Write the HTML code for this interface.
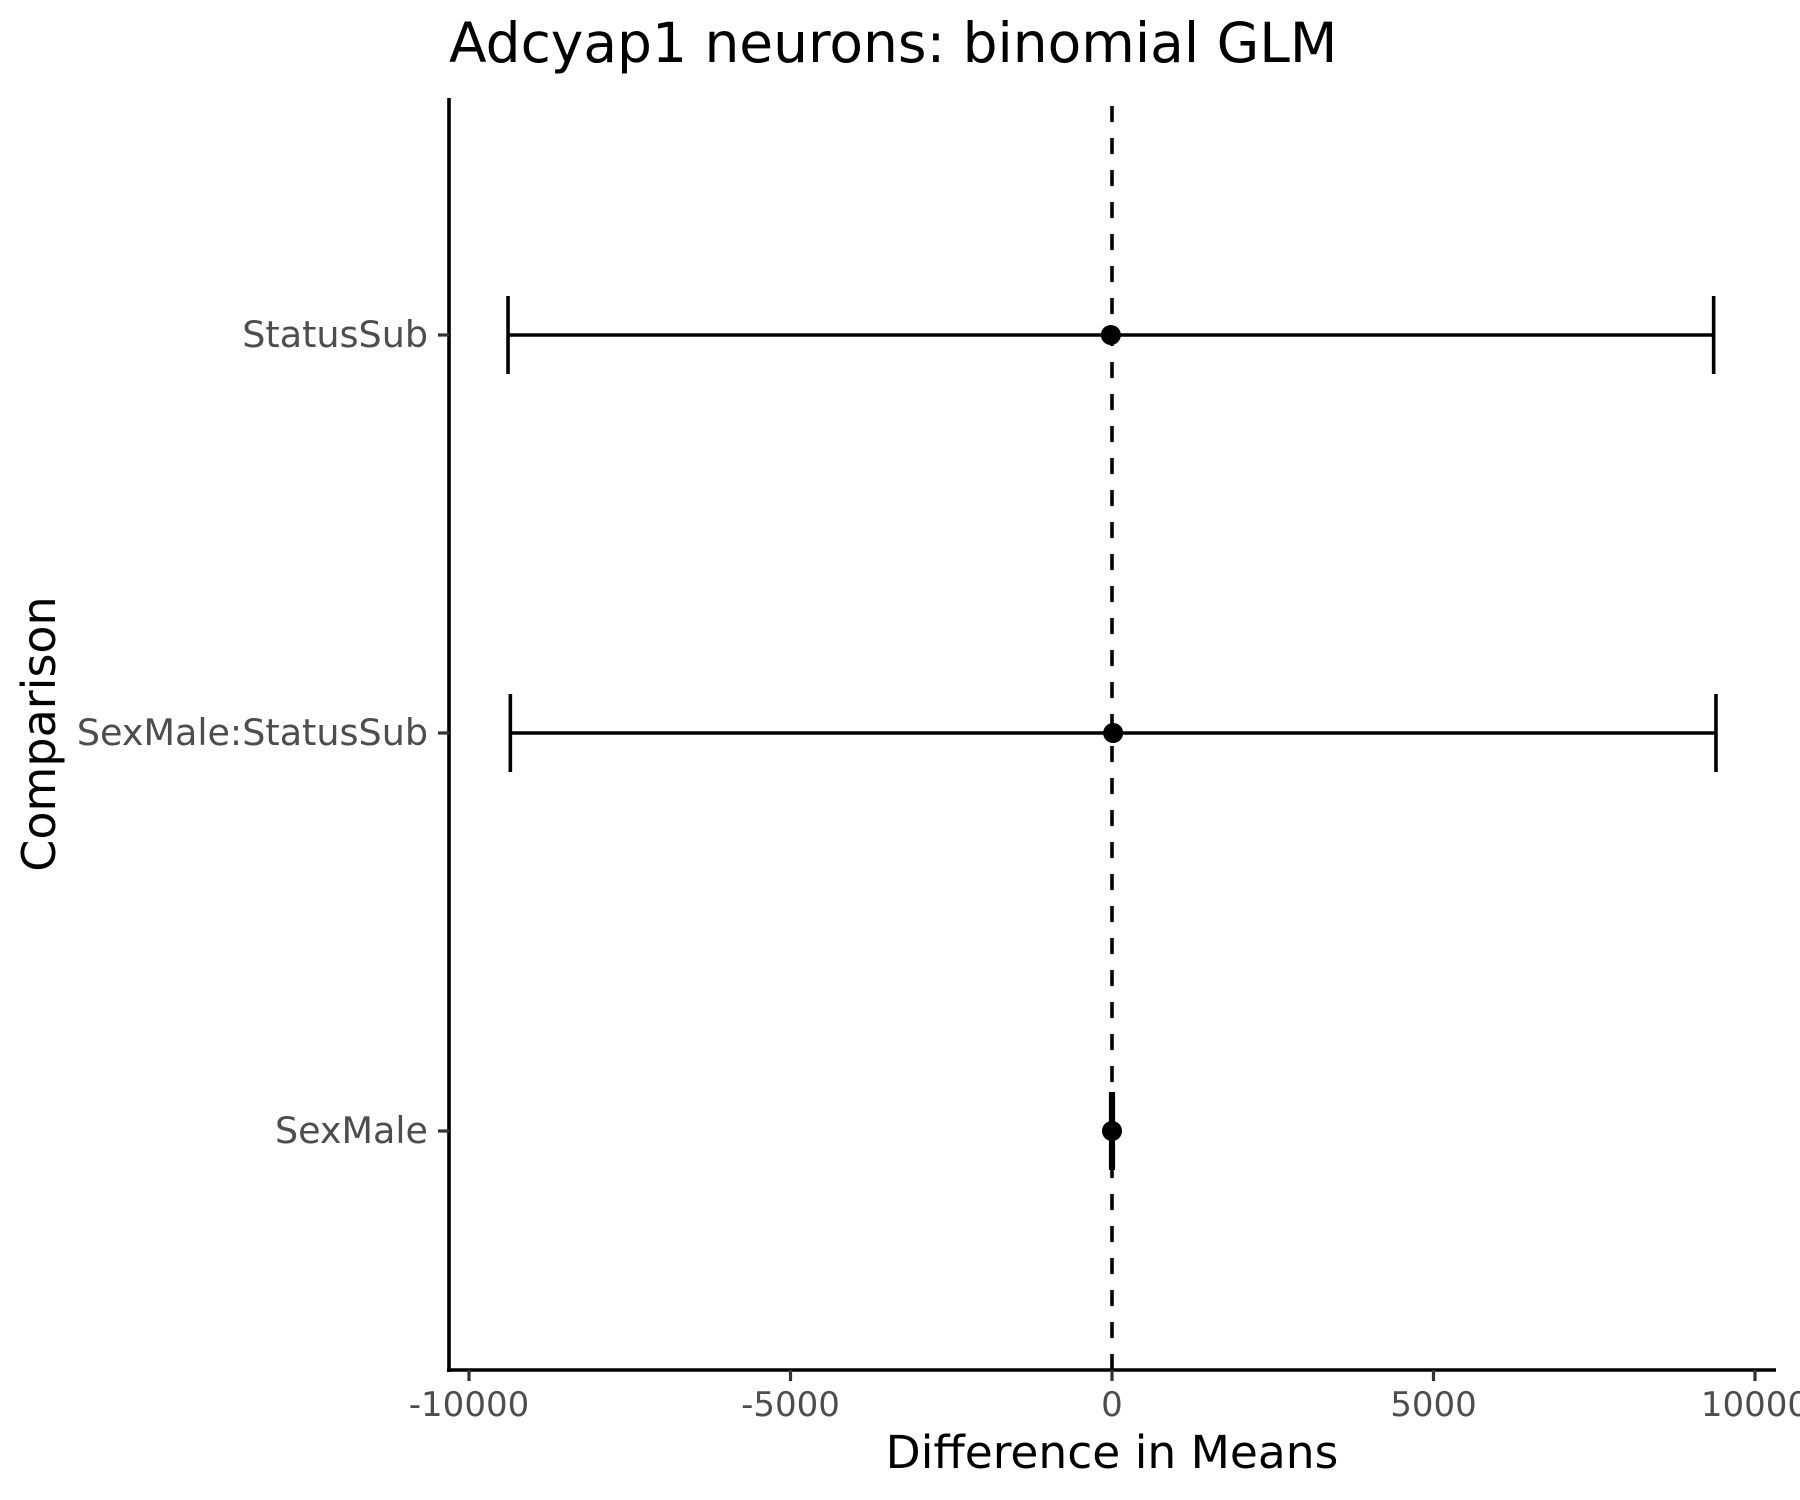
<!DOCTYPE html>
<html><head><meta charset="utf-8"><style>
html,body{margin:0;padding:0;background:#fff;}
svg{display:block;font-family:"DejaVu Sans","Liberation Sans",sans-serif;}
</style></head><body>
<svg id="chart" width="1800" height="1500" viewBox="0 0 1800 1500" xmlns="http://www.w3.org/2000/svg">
<text x="449" y="62" font-size="55" fill="#000">Adcyap1 neurons: binomial GLM</text>
<g id="plot"></g>
<text x="1112" y="1468" font-size="45.5" text-anchor="middle" fill="#000">Difference in Means</text>
<text transform="translate(55,734) rotate(-90)" font-size="46" text-anchor="middle" fill="#000">Comparison</text>
</svg>
<script>
const categories = ["StatusSub", "SexMale:StatusSub", "SexMale"];
const estimates = [-18, 18, 0];
const lowers = [-9393, -9357, -20];
const uppers = [9357, 9393, 20];
const xTicks = [-10000, -5000, 0, 5000, 10000];
const xTickLabels = ["-10000", "-5000", "0", "5000", "10000"];

const NS = "http://www.w3.org/2000/svg";
const g = document.getElementById("plot");
const xS = v => 1112 + v * (643 / 10000);
const yPos = [335, 733, 1131];
const yS = i => yPos[i];
function mk(tag, attrs) {
  const e = document.createElementNS(NS, tag);
  for (const k in attrs) e.setAttribute(k, attrs[k]);
  g.appendChild(e);
  return e;
}
let ref = mk("line", {x1: xS(0), x2: xS(0), y1: 106, y2: 1370, stroke: "#000", "stroke-width": 3.6, "stroke-dasharray": "16 16"});


let ya = mk("line", {x1: 449, x2: 449, y1: 98, y2: 1372, stroke: "#000", "stroke-width": 3.6});


let xa = mk("line", {x1: 447, x2: 1776, y1: 1370, y2: 1370, stroke: "#000", "stroke-width": 3.6});


xTicks.forEach((t, i) => {
  const x = xS(t);
  let tk = mk("line", {x1: x, x2: x, y1: 1370, y2: 1381, stroke: "#333", "stroke-width": 3.2});
  
  
  let tl = mk("text", {x: x, y: 1416, "font-size": 34, fill: "#4d4d4d", "text-anchor": "middle"});
  tl.textContent = xTickLabels[i];
  
  
});
categories.forEach((c, i) => {
  const y = yS(i);
  let tk = mk("line", {x1: 438, x2: 449, y1: y, y2: y, stroke: "#333", "stroke-width": 3.2});
  
  
  let tl = mk("text", {x: 428, y: y + 12, "font-size": 36.5, fill: "#4d4d4d", "text-anchor": "end"});
  tl.textContent = c;
  
  
  const x1 = xS(lowers[i]), x2 = xS(uppers[i]);
  let bar = mk("line", {x1: x1, x2: x2, y1: y, y2: y, stroke: "#000", "stroke-width": 3.6});
  
  
  [x1, x2].forEach(xx => {
    let cap = mk("line", {x1: xx, x2: xx, y1: y - 39, y2: y + 39, stroke: "#000", "stroke-width": 3.6});
    
    
  });
  let pt = mk("circle", {cx: xS(estimates[i]), cy: y, r: 10, fill: "#000"});
  
  
});
</script>
</body></html>
